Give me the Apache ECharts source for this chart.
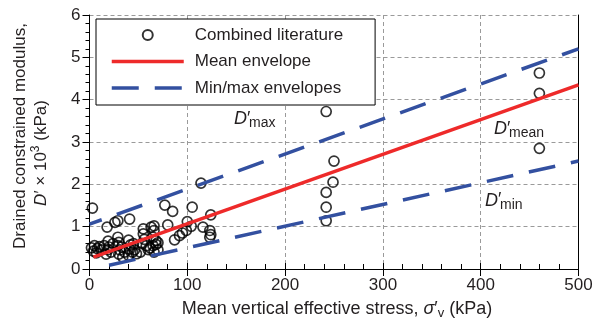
<!DOCTYPE html>
<html>
<head>
<meta charset="utf-8">
<script src="https://cdn.jsdelivr.net/npm/echarts@6/dist/echarts.min.js"></script>
<style>
  html, body { margin: 0; padding: 0; background: #fff; }
  #chart { width: 595px; height: 331px; }
</style>
</head>
<body>
<div id="chart"></div>
<script>
// Literature data: mean vertical effective stress (kPa) vs drained constrained modulus (x10^3 kPa)
const litStress = [3, 2, 5, 4, 8, 10, 12, 7, 15, 18, 19, 20, 19, 22, 24, 17,
  26, 29, 29, 30, 29, 31, 30, 34, 33, 36, 41, 40, 42, 41, 44, 40, 46, 48, 45,
  55, 55, 56, 54, 58, 60, 52, 63, 66, 66, 65, 68, 65, 70, 62, 68, 70, 66,
  77, 85, 80, 87, 92, 95, 99, 100, 104, 105, 114, 116, 123, 124, 124, 123,
  242, 250, 249, 242, 242, 242, 460, 460, 460];
const litModulus = [1.44, 0.50, 0.55, 0.42, 0.48, 0.53, 0.45, 0.38, 0.55, 0.99, 0.66, 0.52, 0.46, 0.40, 0.60, 0.35,
  1.10, 1.14, 0.75, 0.63, 0.55, 0.45, 0.35, 0.28, 0.52, 0.40, 1.18, 0.68, 0.57, 0.47, 0.40, 0.32, 0.45, 0.36, 0.60,
  0.95, 0.83, 0.70, 0.60, 0.55, 0.46, 0.40, 0.99, 1.02, 0.91, 0.75, 0.67, 0.55, 0.62, 0.50, 0.58, 0.45, 0.40,
  1.51, 1.36, 1.04, 0.69, 0.79, 0.85, 0.91, 1.12, 1.01, 1.46, 2.03, 0.99, 0.91, 0.81, 1.28, 0.75,
  3.72, 2.55, 2.05, 1.81, 1.46, 1.14, 4.63, 4.15, 2.85];

// Envelope end points
const meanStress = [4, 500];
const meanModulus = [0.28, 4.35];
const maxStress = [0, 500];
const maxModulus = [1.06, 5.2];
const minStress = [20, 500];
const minModulus = [0.09, 2.55];

// Axis ticks
const xTicks = [0, 100, 200, 300, 400, 500];
const yTicks = [0, 1, 2, 3, 4, 5, 6];

const legendNames = ['Combined literature', 'Mean envelope', 'Min/max envelopes'];

const zip = (xs, ys) => xs.map((x, i) => [x, ys[i]]);

const FONT = '"Liberation Sans", Arial, Helvetica, sans-serif';
const TEXT = '#231f20';
const RED = '#ee2a2a';
const BLUE = '#3350a0';
const LINE_W = 3.5;
const GRID_LINE = { show: true, lineStyle: { color: '#9a9a9a', width: 1, type: [4, 3] } };
const BLACK = { color: '#000', width: 1 };

const chart = echarts.init(document.getElementById('chart'), null, { renderer: 'canvas' });

const xMain = {
  type: 'value', min: xTicks[0], max: xTicks[xTicks.length - 1], interval: xTicks[1] - xTicks[0],
  position: 'bottom',
  axisLine: { show: true, onZero: false, lineStyle: BLACK },
  axisTick: { show: true, inside: true, length: 6, lineStyle: BLACK },
  minorTick: { show: true, splitNumber: 5, length: 5, lineStyle: BLACK },
  splitLine: GRID_LINE,
  axisLabel: { fontSize: 17, color: TEXT, fontFamily: FONT, margin: 8 }
};
// outer half of the major x ticks
const xOuter = {
  type: 'value', min: xMain.min, max: xMain.max, interval: xMain.interval,
  position: 'bottom',
  axisLine: { show: false },
  axisTick: { show: true, inside: false, length: 7, lineStyle: BLACK },
  axisLabel: { show: false },
  splitLine: { show: false }
};
const yMain = {
  type: 'value', min: yTicks[0], max: yTicks[yTicks.length - 1], interval: yTicks[1] - yTicks[0],
  position: 'left',
  axisLine: { show: true, onZero: false, lineStyle: BLACK },
  axisTick: { show: true, inside: false, length: 7, lineStyle: BLACK },
  minorTick: { show: true, splitNumber: 5, length: 4, lineStyle: BLACK },
  splitLine: GRID_LINE,
  axisLabel: { fontSize: 17, color: TEXT, fontFamily: FONT, margin: 9 }
};
// right frame line
const yRight = {
  type: 'value', min: yMain.min, max: yMain.max, position: 'right',
  axisLine: { show: true, onZero: false, lineStyle: BLACK },
  axisTick: { show: false }, axisLabel: { show: false }, splitLine: { show: false }
};

const envelopeDash = { color: BLUE, width: LINE_W, type: [27, 16], dashOffset: 14 };
// line series draw no markers, so their legend entries show only the line
const noMarker = { opacity: 0 };

chart.setOption({
  animation: false,
  backgroundColor: '#fff',
  textStyle: { fontFamily: FONT },
  grid: { left: 89.5, right: 16.5, top: 15, bottom: 62, containLabel: false, outerBoundsMode: 'none' },
  xAxis: [xMain, xOuter],
  yAxis: [yMain, yRight],
  legend: {
    data: [
      { name: legendNames[0] },
      { name: legendNames[1], itemStyle: noMarker },
      { name: legendNames[2], itemStyle: noMarker }
    ],
    orient: 'vertical',
    left: 96, top: 19,
    itemWidth: 72, itemHeight: 10, itemGap: 6.5,
    padding: [6, 32, 7, 14],
    backgroundColor: '#fff', borderColor: '#000', borderWidth: 1, borderRadius: 0,
    selectedMode: false,
    lineStyle: { width: LINE_W, dashOffset: 0 },
    textStyle: { fontSize: 17, color: TEXT, fontFamily: FONT, lineHeight: 20, padding: [0, 0, 0, 6] }
  },
  series: [
    {
      name: legendNames[0], type: 'scatter',
      data: zip(litStress, litModulus),
      symbol: 'circle', symbolSize: 10,
      itemStyle: { color: 'rgba(255,255,255,0)', borderColor: '#000', borderWidth: 1.7 },
      emphasis: { disabled: true }, z: 2
    },
    {
      name: legendNames[1], type: 'line',
      data: zip(meanStress, meanModulus),
      symbol: 'none', showSymbol: false,
      lineStyle: { color: RED, width: LINE_W }, itemStyle: { color: RED },
      emphasis: { disabled: true }, z: 3
    },
    {
      name: legendNames[2], type: 'line',
      data: zip(maxStress, maxModulus),
      symbol: 'none', showSymbol: false,
      lineStyle: envelopeDash, itemStyle: { color: BLUE },
      emphasis: { disabled: true }, z: 3
    },
    {
      name: legendNames[2], type: 'line',
      data: zip(minStress, minModulus),
      symbol: 'none', showSymbol: false,
      lineStyle: Object.assign({}, envelopeDash, { dashOffset: 0 }), itemStyle: { color: BLUE },
      emphasis: { disabled: true }, z: 3
    }
  ],
  graphic: [
    {
      type: 'text', x: 20, y: 136, rotation: Math.PI / 2,
      style: {
        text: 'Drained constrained modulus,', fontSize: 17, fontFamily: FONT, fill: TEXT,
        align: 'center', verticalAlign: 'middle', textAlign: 'center', textVerticalAlign: 'middle'
      }
    },
    {
      type: 'text', x: 41, y: 153, rotation: Math.PI / 2,
      style: {
        text: '{i|D}′ × 10{sup|3} (kPa)', fontSize: 17, fontFamily: FONT, fill: TEXT, lineHeight: 22,
        align: 'center', verticalAlign: 'middle', textAlign: 'center', textVerticalAlign: 'middle',
        rich: {
          i: { fontStyle: 'italic', fontSize: 17, fontFamily: FONT, fill: TEXT, lineHeight: 22 },
          sup: { fontSize: 12, fontFamily: FONT, fill: TEXT, lineHeight: 12, verticalAlign: 'top' }
        }
      }
    },
    {
      type: 'text', x: 337, y: 309,
      style: {
        text: 'Mean vertical effective stress, {i|σ}′{sub|v} (kPa)', fontSize: 18, fontFamily: FONT, fill: TEXT, lineHeight: 22,
        align: 'center', verticalAlign: 'middle', textAlign: 'center', textVerticalAlign: 'middle',
        rich: {
          i: { fontStyle: 'italic', fontSize: 18, fontFamily: FONT, fill: TEXT, lineHeight: 22 },
          sub: { fontSize: 13, fontFamily: FONT, fill: TEXT, lineHeight: 12, verticalAlign: 'bottom' }
        }
      }
    },
    // envelope labels
    ...[['max', 234, 119], ['mean', 494, 129], ['min', 485, 200.5]].map(([sub, x, y]) => ({
      type: 'group', x: x, y: y,
      children: [
        {
          type: 'text', x: 0, y: 0,
          style: {
            text: '{i|D}′', fontSize: 18, fontFamily: FONT, fill: TEXT,
            align: 'left', verticalAlign: 'middle', textAlign: 'left', textVerticalAlign: 'middle',
            rich: { i: { fontStyle: 'italic', fontSize: 18, fontFamily: FONT, fill: TEXT } }
          }
        },
        {
          type: 'text', x: 15, y: 4.5,
          style: {
            text: sub, fontSize: 14, fontFamily: FONT, fill: TEXT,
            align: 'left', verticalAlign: 'middle', textAlign: 'left', textVerticalAlign: 'middle'
          }
        }
      ]
    }))
  ]
});
</script>
</body>
</html>
